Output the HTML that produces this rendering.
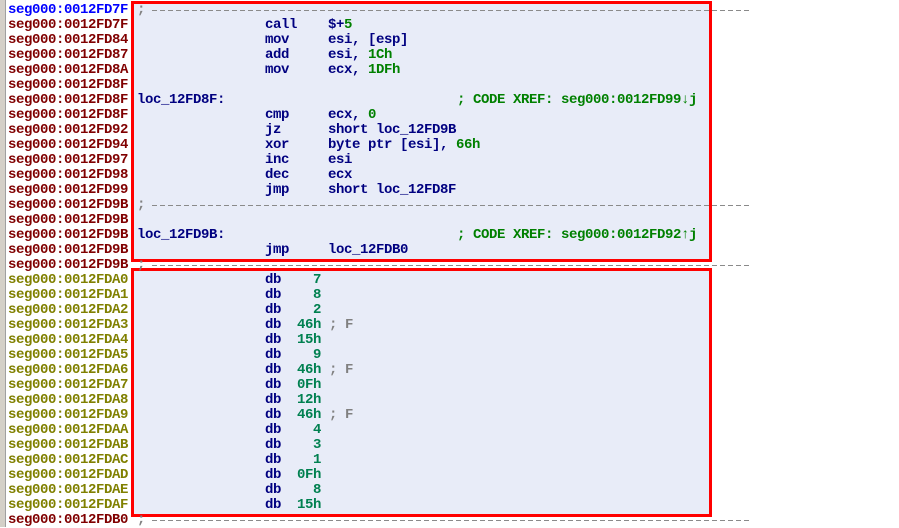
<!DOCTYPE html>
<html><head><meta charset="utf-8"><style>
body{margin:0;width:899px;height:527px;background:#fff;position:relative;overflow:hidden;font-family:"Liberation Mono","DejaVu Sans Mono",monospace;font-weight:bold;font-size:14px;letter-spacing:-0.4px;}
.strip{position:absolute;left:0;top:0;width:5px;height:527px;background:#d4d0c8;border-right:1px solid #a0a0a0;}
.box{position:absolute;left:131px;width:575px;border:3px solid #f00;background:#e8ecf8;}
.r{position:absolute;left:0;height:15px;line-height:15px;width:899px;white-space:pre;}
.r span{position:absolute;top:0;}
.a{left:8px;color:#800000}
.ab{left:8px;color:#0000ff}
.ao{left:8px;color:#808000}
.m{left:265px;color:#000080}
.o{left:328px;color:#000080}
.l{left:137px;color:#000080}
.c{left:457px;color:#008000}
.g{color:#008000}
.semi{left:137px;color:#808080}
.dash{position:absolute;left:152px;width:600px;top:7px;height:1px;background:repeating-linear-gradient(90deg,#8a8a8a 0 5px,transparent 5px 8px);}
.v{left:297px;width:24px;text-align:right;color:#008050}
.f{left:329px;color:#808080}
</style></head><body>
<div class="strip"></div>
<div class="box" style="top:1px;height:255px"></div>
<div class="box" style="top:268px;height:243px"></div>
<div class="r" style="top:3px"><span class="ab">seg000:0012FD7F</span><span class="semi">;</span><div class="dash"></div></div>
<div class="r" style="top:18px"><span class="a">seg000:0012FD7F</span><span class="m">call</span><span class="o">$+<b class="g">5</b></span></div>
<div class="r" style="top:33px"><span class="a">seg000:0012FD84</span><span class="m">mov</span><span class="o">esi, [esp]</span></div>
<div class="r" style="top:48px"><span class="a">seg000:0012FD87</span><span class="m">add</span><span class="o">esi, <b class="g">1Ch</b></span></div>
<div class="r" style="top:63px"><span class="a">seg000:0012FD8A</span><span class="m">mov</span><span class="o">ecx, <b class="g">1DFh</b></span></div>
<div class="r" style="top:78px"><span class="a">seg000:0012FD8F</span></div>
<div class="r" style="top:93px"><span class="a">seg000:0012FD8F</span><span class="l">loc_12FD8F:</span><span class="c">; CODE XREF: seg000:0012FD99↓j</span></div>
<div class="r" style="top:108px"><span class="a">seg000:0012FD8F</span><span class="m">cmp</span><span class="o">ecx, <b class="g">0</b></span></div>
<div class="r" style="top:123px"><span class="a">seg000:0012FD92</span><span class="m">jz</span><span class="o">short loc_12FD9B</span></div>
<div class="r" style="top:138px"><span class="a">seg000:0012FD94</span><span class="m">xor</span><span class="o">byte ptr [esi], <b class="g">66h</b></span></div>
<div class="r" style="top:153px"><span class="a">seg000:0012FD97</span><span class="m">inc</span><span class="o">esi</span></div>
<div class="r" style="top:168px"><span class="a">seg000:0012FD98</span><span class="m">dec</span><span class="o">ecx</span></div>
<div class="r" style="top:183px"><span class="a">seg000:0012FD99</span><span class="m">jmp</span><span class="o">short loc_12FD8F</span></div>
<div class="r" style="top:198px"><span class="a">seg000:0012FD9B</span><span class="semi">;</span><div class="dash"></div></div>
<div class="r" style="top:213px"><span class="a">seg000:0012FD9B</span></div>
<div class="r" style="top:228px"><span class="a">seg000:0012FD9B</span><span class="l">loc_12FD9B:</span><span class="c">; CODE XREF: seg000:0012FD92↑j</span></div>
<div class="r" style="top:243px"><span class="a">seg000:0012FD9B</span><span class="m">jmp</span><span class="o">loc_12FDB0</span></div>
<div class="r" style="top:258px"><span class="a">seg000:0012FD9B</span><span class="semi">;</span><div class="dash"></div></div>
<div class="r" style="top:273px"><span class="ao">seg000:0012FDA0</span><span class="m">db</span><span class="v">7</span></div>
<div class="r" style="top:288px"><span class="ao">seg000:0012FDA1</span><span class="m">db</span><span class="v">8</span></div>
<div class="r" style="top:303px"><span class="ao">seg000:0012FDA2</span><span class="m">db</span><span class="v">2</span></div>
<div class="r" style="top:318px"><span class="ao">seg000:0012FDA3</span><span class="m">db</span><span class="v">46h</span><span class="f">; F</span></div>
<div class="r" style="top:333px"><span class="ao">seg000:0012FDA4</span><span class="m">db</span><span class="v">15h</span></div>
<div class="r" style="top:348px"><span class="ao">seg000:0012FDA5</span><span class="m">db</span><span class="v">9</span></div>
<div class="r" style="top:363px"><span class="ao">seg000:0012FDA6</span><span class="m">db</span><span class="v">46h</span><span class="f">; F</span></div>
<div class="r" style="top:378px"><span class="ao">seg000:0012FDA7</span><span class="m">db</span><span class="v">0Fh</span></div>
<div class="r" style="top:393px"><span class="ao">seg000:0012FDA8</span><span class="m">db</span><span class="v">12h</span></div>
<div class="r" style="top:408px"><span class="ao">seg000:0012FDA9</span><span class="m">db</span><span class="v">46h</span><span class="f">; F</span></div>
<div class="r" style="top:423px"><span class="ao">seg000:0012FDAA</span><span class="m">db</span><span class="v">4</span></div>
<div class="r" style="top:438px"><span class="ao">seg000:0012FDAB</span><span class="m">db</span><span class="v">3</span></div>
<div class="r" style="top:453px"><span class="ao">seg000:0012FDAC</span><span class="m">db</span><span class="v">1</span></div>
<div class="r" style="top:468px"><span class="ao">seg000:0012FDAD</span><span class="m">db</span><span class="v">0Fh</span></div>
<div class="r" style="top:483px"><span class="ao">seg000:0012FDAE</span><span class="m">db</span><span class="v">8</span></div>
<div class="r" style="top:498px"><span class="ao">seg000:0012FDAF</span><span class="m">db</span><span class="v">15h</span></div>
<div class="r" style="top:513px"><span class="a">seg000:0012FDB0</span><span class="semi">;</span><div class="dash"></div></div>
</body></html>
